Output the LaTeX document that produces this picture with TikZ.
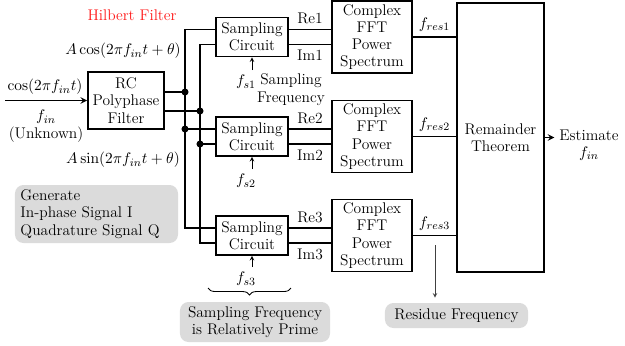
\documentclass[tikz,border=0pt]{standalone}
\usepackage{tikz}
\usetikzlibrary{calc,decorations.pathreplacing}

\begin{document}
\begin{tikzpicture}[
        x=0.025cm, y=-0.025cm,
        font=\fontsize{11}{12.3}\selectfont,
        block/.style={draw, line width=1.1pt, align=center, inner sep=0pt},
        sampler/.style={block, minimum width=1.8cm, minimum height=0.975cm},
        fftbox/.style={block, minimum width=2cm, minimum height=1.8cm},
        note/.style={fill=gray!28, rounded corners=6pt, inner sep=0pt},
        wire/.style={line width=1.1pt},
        arrow/.style={->, >=stealth, line width=1.1pt},
        thinarrow/.style={->, >=stealth, line width=0.5pt},
        dot/.style={circle, fill, inner sep=0pt, minimum size=5pt}
    ]
    \useasboundingbox (0,0) rectangle (625,345);

    % Blocks
    \node[block, minimum width=1.9cm, minimum height=1.425cm] (rc) at (126,100.5) {RC\\Polyphase\\Filter};
    \node[sampler] (s1) at (252,37) {Sampling\\Circuit};
    \node[sampler] (s2) at (252,136.5) {Sampling\\Circuit};
    \node[sampler] (s3) at (252,235.5) {Sampling\\Circuit};
    \node[fftbox] (f1) at (372,37) {Complex\\FFT\\Power\\Spectrum};
    \node[fftbox] (f2) at (372,136.5) {Complex\\FFT\\Power\\Spectrum};
    \node[fftbox] (f3) at (372,235.5) {Complex\\FFT\\Power\\Spectrum};
    \node[block, minimum width=2.175cm, minimum height=6.725cm] (rem) at (500.5,137.5) {Remainder\\Theorem};

    % Junctions
    \node[dot] (d1) at (185,92) {};
    \node[dot] (d2) at (200,111) {};
    \node[dot] (d3) at (185,129) {};
    \node[dot] (d4) at (200,144) {};

    % Labels
    \node[red!90] (hil) at (132,15) {Hilbert Filter};
    \node (acos) at (123,51) {$A\cos(2\pi f_{in}t+\theta)$};
    \node (asin) at (123,160) {$A\sin(2\pi f_{in}t+\theta)$};
    \node (cin) at (45,87) {$\cos(2\pi f_{in}t)$};
    \node[align=center] (unk) at (46,126) {$f_{in}$\\(Unknown)};
    \node[align=center] (est) at (589,145) {Estimate\\$f_{in}$};
    \node (fs1) at (246,82) {$f_{s1}$};
    \node (fs2) at (246,181) {$f_{s2}$};
    \node (fs3) at (246,279) {$f_{s3}$};
    \node[align=center] (sf) at (291,89.5) {Sampling\\Frequency};
    \node[note, minimum width=4.075cm, minimum height=1.45cm, text width=3.8cm, align=left] (gen) at (96.5,214) {Generate\\In-phase Signal I\\Quadrature Signal Q};
    \node[note, minimum width=3.75cm, minimum height=1cm, align=center] (prime) at (255,322) {Sampling Frequency\\is Relatively Prime};
    \node[note, minimum width=3.575cm, minimum height=0.625cm] (res) at (456.5,315.5) {Residue Frequency};

    % Input and filter outputs
    \coordinate (in) at (5,100.5);
    \draw[arrow] (in) -- (rc.west);
    \draw[wire] (rc.east |- d1) -- (d1.center);
    \draw[wire] (rc.east |- d2) -- (d2.center);

    % I and Q buses
    \draw[wire] ($(s1.west)+(0,-7.5)$) -| (d1.center) -- (d3.center) |- ($(s3.west)+(0,-7.5)$);
    \draw[wire] (d3.center) -- ($(s2.west)+(0,-7.5)$);
    \draw[wire] ($(s1.west)+(0,7.5)$) -| (d2.center) -- (d4.center) |- ($(s3.west)+(0,7.5)$);
    \draw[wire] (d4.center) -- ($(s2.west)+(0,7.5)$);

    % Sampling clocks
    \draw[thinarrow] (fs1.north -| s1.south) -- (s1.south);
    \draw[thinarrow] (fs2.north -| s2.south) -- (s2.south);
    \draw[thinarrow] (fs3.north -| s3.south) -- (s3.south);
    \draw[decorate, decoration={brace, mirror, amplitude=5pt}, line width=0.6pt] (208,288) -- (291,288);

    % Real and imaginary parts
    \draw[wire] ($(s1.east)+(0,-7.5)$) -- node[above] {Re1} ($(f1.west)+(0,-7.5)$);
    \draw[wire] ($(s1.east)+(0,7.5)$) -- node[below] {Im1} ($(f1.west)+(0,7.5)$);
    \draw[wire] ($(s2.east)+(0,-7.5)$) -- node[above] {Re2} ($(f2.west)+(0,-7.5)$);
    \draw[wire] ($(s2.east)+(0,7.5)$) -- node[below] {Im2} ($(f2.west)+(0,7.5)$);
    \draw[wire] ($(s3.east)+(0,-7.5)$) -- node[above] {Re3} ($(f3.west)+(0,-7.5)$);
    \draw[wire] ($(s3.east)+(0,7.5)$) -- node[below] {Im3} ($(f3.west)+(0,7.5)$);

    % Residues
    \draw[wire] (f1.east) -- node[above] {$f_{res1}$} (f1.east -| rem.west);
    \draw[wire] (f2.east) -- node[above] {$f_{res2}$} (f2.east -| rem.west);
    \draw[wire] (f3.east) -- node[above] {$f_{res3}$} (f3.east -| rem.west);
    \coordinate (r0) at (435,245);
    \draw[thinarrow, black!75] (r0) -- ($(res.north -| r0)+(0,-5)$);

    % Output
    \draw[arrow] (rem.east) -- (rem.east -| est.west);

    \end{tikzpicture}
\end{document}
